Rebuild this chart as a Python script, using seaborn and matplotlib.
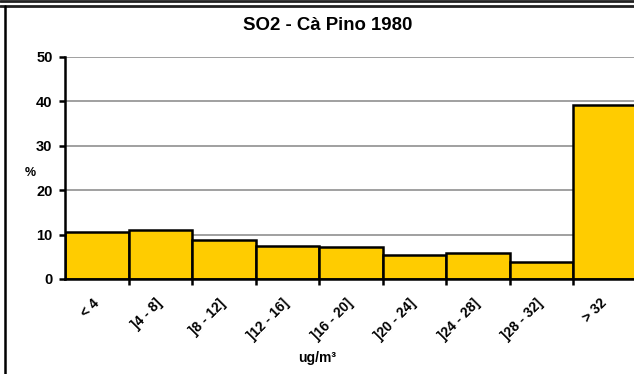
import pandas as pd
import matplotlib
matplotlib.use("Agg")
import matplotlib.pyplot as plt
import matplotlib.transforms as mtransforms
import seaborn as sns
from matplotlib.lines import Line2D

# classes of SO2 concentration and share of hours (%)
classes = ["< 4", "]4 - 8]", "]8 - 12]", "]12 - 16]", "]16 - 20]",
           "]20 - 24]", "]24 - 28]", "]28 - 32]", "> 32"]
percent = [10.5, 11.0, 8.7, 7.5, 7.1, 5.5, 5.8, 3.9, 39.3]
y_ticks = [0, 10, 20, 30, 40, 50]


def main():
    df = pd.DataFrame({"classe": classes, "perc": percent})

    sns.set_style("white")
    plt.rcParams["font.family"] = ["Liberation Sans", "DejaVu Sans"]
    plt.rcParams["font.weight"] = "bold"
    for key in ["text.color", "axes.labelcolor", "xtick.color", "ytick.color"]:
        plt.rcParams[key] = "black"

    fig = plt.figure(figsize=(6.34, 3.74), dpi=100)
    W, H = 634, 374
    # axes runs a bit past the right edge, like the cropped original
    ax = fig.add_axes([65 / W, (H - 279) / H, 571.5 / W, 222 / H])

    sns.barplot(data=df, x="classe", y="perc", color="#FFCC00", saturation=1,
                width=1.0, edgecolor="black", linewidth=1.8, ax=ax, zorder=3)

    ax.set_ylim(0, 50)
    ax.set_xlim(-0.5, len(classes) - 0.5)
    ax.set_yticks(y_ticks)
    ax.yaxis.grid(True, color="#999999", linewidth=1.3, zorder=0)
    ax.set_axisbelow(True)

    for side in ["top", "right"]:
        ax.spines[side].set_visible(False)
    for side in ["left", "bottom"]:
        ax.spines[side].set_linewidth(1.8)
        ax.spines[side].set_color("black")
        ax.spines[side].set_zorder(4)

    # tick marks between the bars, labels centred under them
    ax.set_xticks([i + 0.5 for i in range(len(classes))], minor=False)
    ax.set_xticklabels([""] * len(classes))
    ax.set_xticks(range(len(classes)), minor=True)
    ax.set_xticklabels(classes, minor=True, rotation=45, ha="right", va="center",
                       rotation_mode="anchor", fontsize=10, fontweight="bold")
    shift = mtransforms.ScaledTranslation(5 / 100, 0, fig.dpi_scale_trans)
    for lab in ax.get_xticklabels(minor=True):
        lab.set_transform(lab.get_transform() + shift)
    ax.tick_params(axis="x", which="major", direction="out", length=4, width=1.8,
                   bottom=True, color="black")
    ax.tick_params(axis="x", which="minor", length=0, pad=16)
    ax.tick_params(axis="y", direction="out", length=4, width=1.8, left=True,
                   color="black", labelsize=10.5, pad=5)
    for lab in ax.get_yticklabels():
        lab.set_fontweight("bold")

    ax.set_xlabel("")
    ax.set_ylabel("")

    fig.text(328 / W, 1 - 26 / H, "SO2 - Cà Pino 1980", ha="center", va="center",
             fontsize=13.4, fontweight="bold")
    fig.text(30 / W, 1 - 173 / H, "%", ha="center", va="center",
             fontsize=9, fontweight="bold")
    fig.text(317 / W, 1 - 358 / H, "ug/m³", ha="center", va="center",
             fontsize=10, fontweight="bold")

    # chart frame: double line on top, single on the left
    for y in [1 - 0.5 / H, 1 - 5.5 / H]:
        fig.add_artist(Line2D([0, 1], [y, y], color="#222222", linewidth=2,
                              transform=fig.transFigure))
    fig.add_artist(Line2D([4.5 / W, 4.5 / W], [0, 1 - 5.5 / H], color="black",
                          linewidth=1.8, transform=fig.transFigure))

    fig.savefig("out.png", dpi=100)


if __name__ == "__main__":
    main()
